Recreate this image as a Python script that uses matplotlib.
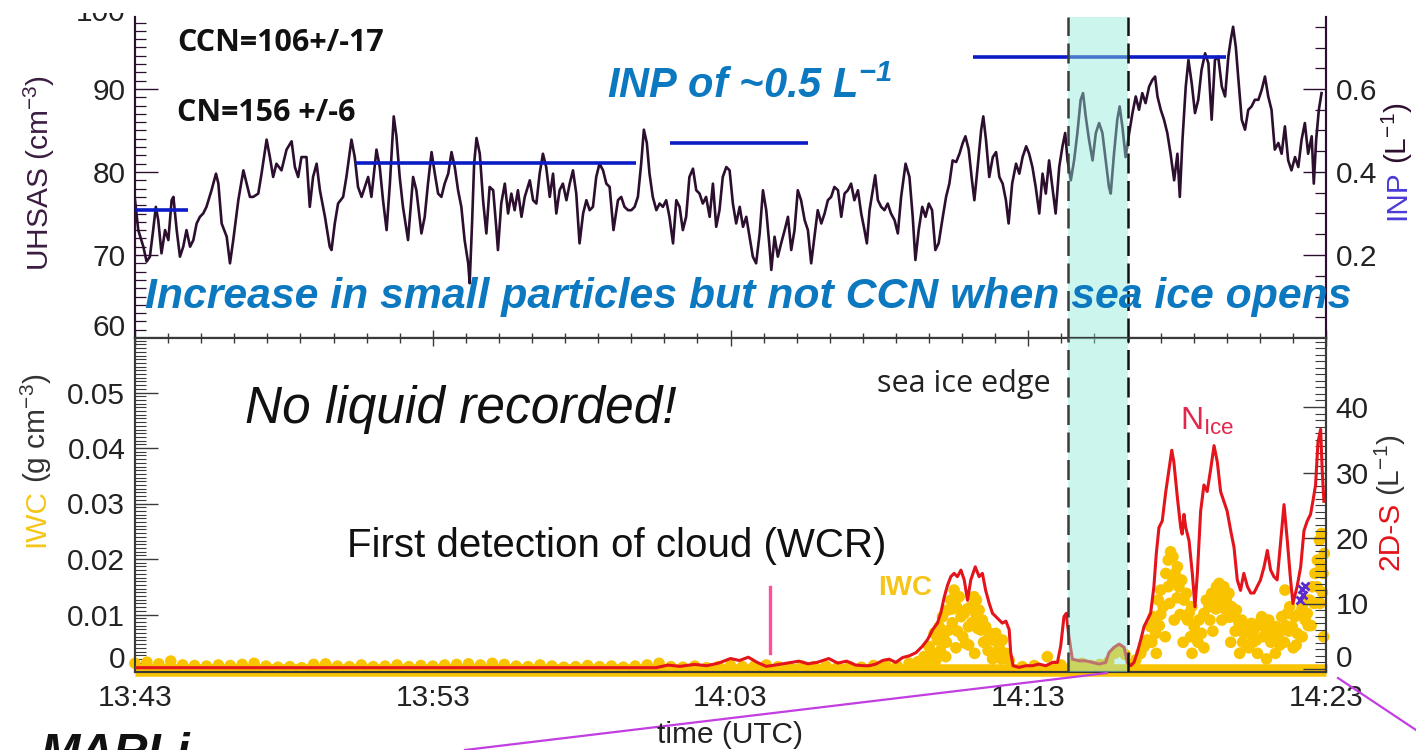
import matplotlib
matplotlib.use("Agg")
import matplotlib.pyplot as plt
from matplotlib.ticker import MultipleLocator
from matplotlib.lines import Line2D
from matplotlib.transforms import Bbox, TransformedBbox

plt.rcParams["font.family"] = ["Liberation Sans", "DejaVu Sans"]
plt.rcParams["mathtext.default"] = "regular"

# ---------------- data (time in minutes after 13:43 UTC) ----------------
time_ticks = [0, 10, 20, 30, 40]
time_labels = ["13:43", "13:53", "14:03", "14:13", "14:23"]

uhsas_t = [0.0, 0.11, 0.28, 0.39, 0.50, 0.61, 0.70, 0.78, 0.89, 1.01, 1.12, 1.23, 1.29, 1.40, 1.51, 1.62, 1.73, 1.85, 1.96, 2.07,
           2.18, 2.29, 2.40, 2.57, 2.72, 2.80, 2.91, 3.08, 3.19, 3.30, 3.47, 3.64, 3.75, 3.86, 3.97, 4.14, 4.25, 4.42, 4.53, 4.64,
           4.75, 4.92, 5.09, 5.26, 5.37, 5.48, 5.59, 5.76, 5.87, 5.98, 6.10, 6.21, 6.38, 6.54, 6.60, 6.71, 6.82, 6.99, 7.10, 7.27,
           7.38, 7.49, 7.61, 7.72, 7.83, 7.94, 8.11, 8.22, 8.33, 8.45, 8.56, 8.69, 8.78, 8.89, 9.00, 9.17, 9.34, 9.45, 9.62, 9.73,
           9.84, 9.96, 10.07, 10.18, 10.29, 10.40, 10.52, 10.63, 10.74, 10.85, 10.96, 11.07, 11.19, 11.24, 11.32, 11.39, 11.47, 11.58, 11.69, 11.80,
           11.91, 12.03, 12.14, 12.19, 12.30, 12.42, 12.53, 12.64, 12.75, 12.86, 12.98, 13.09, 13.26, 13.37, 13.48, 13.59, 13.70, 13.81, 13.93, 14.04,
           14.15, 14.26, 14.37, 14.49, 14.60, 14.71, 14.82, 14.93, 15.05, 15.16, 15.27, 15.38, 15.49, 15.60, 15.72, 15.83, 15.94, 16.07, 16.22, 16.33,
           16.44, 16.56, 16.67, 16.78, 16.89, 17.00, 17.09, 17.19, 17.28, 17.39, 17.51, 17.62, 17.73, 17.84, 17.95, 18.07, 18.18, 18.29, 18.40, 18.51,
           18.62, 18.74, 18.85, 18.96, 19.07, 19.18, 19.30, 19.41, 19.52, 19.63, 19.74, 19.86, 19.97, 20.08, 20.19, 20.31, 20.42, 20.53, 20.64, 20.75,
           20.86, 20.98, 21.09, 21.20, 21.31, 21.37, 21.48, 21.59, 21.70, 21.82, 21.93, 22.04, 22.15, 22.26, 22.37, 22.49, 22.60, 22.71, 22.82, 22.93,
           23.05, 23.16, 23.27, 23.38, 23.49, 23.61, 23.72, 23.83, 23.94, 24.05, 24.16, 24.28, 24.39, 24.50, 24.58, 24.67, 24.78, 24.86, 24.95, 25.06,
           25.17, 25.28, 25.39, 25.51, 25.62, 25.73, 25.88, 26.01, 26.12, 26.21, 26.32, 26.44, 26.55, 26.66, 26.77, 26.88, 26.99, 27.13, 27.24, 27.35,
           27.46, 27.58, 27.69, 27.80, 27.89, 28.00, 28.11, 28.19, 28.30, 28.42, 28.49, 28.58, 28.69, 28.81, 28.92, 29.03, 29.14, 29.25, 29.34, 29.46,
           29.59, 29.70, 29.81, 29.93, 30.03, 30.14, 30.25, 30.37, 30.48, 30.59, 30.70, 30.81, 30.92, 31.04, 31.15, 31.24, 31.32, 31.43, 31.54, 31.65,
           31.76, 31.84, 31.93, 32.04, 32.16, 32.27, 32.38, 32.49, 32.60, 32.71, 32.77, 32.88, 32.99, 33.07, 33.16, 33.27, 33.39, 33.50, 33.61, 33.72,
           33.83, 33.94, 34.06, 34.17, 34.26, 34.34, 34.45, 34.56, 34.67, 34.78, 34.90, 35.01, 35.09, 35.18, 35.29, 35.38, 35.49, 35.60, 35.71, 35.82,
           35.94, 36.05, 36.16, 36.27, 36.38, 36.50, 36.61, 36.72, 36.80, 36.88, 36.97, 37.05, 37.17, 37.28, 37.39, 37.50, 37.61, 37.73, 37.84, 37.95,
           38.06, 38.17, 38.28, 38.40, 38.51, 38.62, 38.73, 38.84, 38.96, 39.07, 39.18, 39.29, 39.40, 39.52, 39.59, 39.67, 39.76, 39.85]
uhsas_v = [76.6, 73.0, 71.0, 69.2, 69.8, 73.0, 75.8, 74.2, 70.2, 73.0, 71.8, 76.6, 77.0, 73.0, 69.8, 71.0, 73.0, 71.0, 71.8, 73.8,
           74.6, 75.0, 75.8, 77.8, 79.8, 78.6, 73.8, 72.2, 69.0, 71.8, 76.6, 80.2, 78.6, 77.0, 77.0, 77.4, 79.8, 83.9, 81.8, 79.4,
           81.0, 80.2, 82.7, 83.7, 80.6, 79.4, 81.8, 81.8, 75.8, 79.4, 81.0, 77.8, 74.6, 71.0, 70.6, 73.8, 76.2, 77.0, 79.4, 83.9,
           81.8, 78.2, 77.0, 78.2, 79.4, 77.0, 82.7, 80.6, 76.6, 73.0, 78.6, 86.7, 84.3, 79.4, 75.8, 71.8, 79.4, 77.8, 72.6, 74.6,
           78.6, 82.4, 79.8, 77.4, 77.0, 78.6, 79.8, 82.4, 80.6, 77.8, 75.8, 71.8, 69.0, 66.6, 73.8, 81.0, 84.1, 82.2, 76.6, 72.6,
           78.2, 77.8, 73.0, 70.6, 76.2, 78.6, 75.0, 77.4, 75.4, 77.8, 74.6, 77.0, 79.0, 76.6, 76.2, 79.8, 82.2, 80.6, 77.0, 79.8,
           75.0, 77.8, 78.6, 76.6, 78.6, 80.2, 77.4, 71.4, 75.0, 76.6, 75.4, 75.8, 79.4, 81.0, 80.2, 78.6, 78.2, 73.0, 76.6, 77.0,
           75.8, 75.4, 75.4, 75.8, 77.0, 81.0, 85.1, 83.5, 79.8, 77.0, 75.4, 76.2, 75.8, 76.6, 74.6, 71.4, 76.6, 75.8, 73.0, 74.6,
           79.4, 80.4, 77.8, 77.4, 76.2, 77.0, 74.6, 78.6, 73.4, 75.4, 79.4, 80.6, 80.2, 76.2, 73.8, 75.8, 73.4, 74.6, 72.2, 69.8,
           69.0, 72.6, 77.8, 75.4, 71.0, 68.2, 72.2, 69.8, 71.4, 73.0, 74.6, 70.6, 73.0, 77.8, 76.6, 74.2, 73.0, 69.0, 72.2, 75.4,
           73.8, 75.0, 76.6, 77.0, 78.2, 77.8, 74.6, 77.4, 77.8, 78.6, 76.6, 77.8, 75.0, 73.0, 71.4, 75.4, 77.8, 79.6, 76.6, 75.8,
           75.4, 76.2, 75.0, 74.2, 72.6, 77.0, 81.0, 79.4, 74.6, 69.4, 73.0, 75.8, 74.6, 76.2, 75.4, 70.6, 71.4, 74.6, 77.0, 78.6,
           81.4, 81.2, 82.2, 83.5, 84.3, 82.7, 79.0, 76.6, 80.6, 85.1, 86.7, 83.9, 79.4, 81.8, 82.4, 79.4, 78.6, 76.6, 73.8, 78.6,
           81.0, 79.8, 81.8, 83.1, 82.2, 80.6, 78.2, 75.0, 79.8, 77.4, 81.4, 78.2, 75.0, 80.6, 83.1, 84.7, 81.4, 79.0, 81.4, 84.7,
           88.7, 89.5, 86.7, 83.9, 81.4, 84.7, 85.9, 84.7, 81.4, 78.2, 77.4, 82.2, 86.3, 87.9, 85.5, 81.8, 84.7, 87.1, 89.1, 87.5,
           89.5, 88.3, 90.3, 91.1, 91.5, 89.1, 87.5, 86.3, 84.7, 82.2, 79.0, 82.2, 77.0, 83.9, 90.3, 93.5, 90.7, 87.1, 88.7, 92.3,
           94.3, 93.1, 86.3, 93.5, 93.9, 90.3, 89.1, 93.9, 95.9, 97.5, 95.1, 91.5, 86.3, 85.1, 87.5, 87.9, 88.7, 88.7, 89.9, 91.5,
           89.1, 87.5, 82.7, 83.5, 82.2, 85.5, 81.4, 80.2, 81.8, 80.6, 83.9, 85.9, 82.2, 84.3, 78.6, 83.9, 87.5, 89.5]

# INP filter samples: (start, end) in minutes and concentration in L^-1
inp_start = [0.0, 7.38, 17.97, 28.15]
inp_end = [1.78, 16.81, 22.60, 36.64]
inp_value = [0.308, 0.422, 0.470, 0.677]

# 2D-S ice number concentration (L^-1)
nice_t = [0.0, 5.0, 10.0, 15.0, 17.5, 17.9, 18.3, 18.8, 19.2, 19.6, 20.0, 20.3, 20.6, 20.9, 21.2, 21.5, 21.9, 22.3, 22.6, 22.9,
          23.3, 23.6, 23.9, 24.2, 24.5, 24.66, 24.88, 25.11, 25.33, 25.55, 25.78, 26.00, 26.23, 26.45, 26.62, 26.79, 26.95, 27.06, 27.18, 27.29,
          27.40, 27.51, 27.62, 27.74, 27.85, 27.96, 28.07, 28.22, 28.35, 28.46, 28.57, 28.69, 28.80, 28.91, 29.02, 29.13, 29.25, 29.36, 29.41, 29.49,
          29.69, 29.92, 30.14, 30.36, 30.59, 30.81, 30.98, 31.09, 31.20, 31.28, 31.35, 31.48, 31.71, 31.93, 32.15, 32.38, 32.60, 32.71, 32.88, 33.05,
          33.22, 33.33, 33.44, 33.55, 33.66, 33.78, 33.89, 34.00, 34.11, 34.22, 34.30, 34.39, 34.50, 34.62, 34.73, 34.82, 34.89, 35.01, 35.12, 35.17,
          35.23, 35.29, 35.40, 35.51, 35.60, 35.68, 35.79, 35.90, 36.01, 36.13, 36.24, 36.35, 36.46, 36.57, 36.68, 36.80, 36.91, 37.02, 37.13, 37.24,
          37.36, 37.47, 37.58, 37.69, 37.80, 37.92, 38.03, 38.14, 38.25, 38.36, 38.47, 38.59, 38.70, 38.81, 38.89, 39.03, 39.15, 39.26, 39.37, 39.48,
          39.56, 39.65, 39.73, 39.82, 39.87, 39.93]
nice_v = [0.2, 0.2, 0.2, 0.2, 0.2, 0.6, 0.4, 0.7, 0.5, 0.9, 1.6, 1.3, 1.8, 1.0, 0.4, 0.6, 0.9, 1.2, 0.8, 1.0,
          1.6, 0.9, 1.2, 0.6, 0.5, 0.5, 0.75, 1.3, 1.5, 1.0, 1.75, 2.0, 2.5, 3.5, 4.5, 6.0, 7.0, 8.5, 11.0, 12.8,
          14.1, 14.6, 14.1, 15.1, 13.6, 10.5, 13.6, 15.6, 14.1, 14.6, 12.0, 10.0, 8.5, 8.0, 7.5, 7.0, 7.3, 6.0, 2.5, 0.5,
          0.25, 0.5, 0.5, 0.75, 0.5, 1.0, 1.0, 3.5, 8.0, 8.5, 5.5, 1.5, 1.25, 1.25, 1.0, 0.75, 1.0, 2.5, 3.3, 3.8,
          3.3, 1.0, 0.5, 1.0, 2.5, 4.5, 6.5, 7.5, 8.5, 12.6, 17.6, 21.6, 22.6, 27.1, 30.6, 33.4, 31.6, 26.1, 21.6, 20.6,
          23.6, 21.6, 19.6, 14.6, 9.5, 14.6, 24.1, 28.1, 27.1, 30.6, 34.1, 31.6, 27.1, 25.6, 24.1, 21.1, 18.6, 13.6, 12.0, 14.6,
          12.6, 11.6, 11.6, 12.6, 13.6, 15.6, 18.1, 15.1, 14.1, 13.6, 19.1, 25.1, 19.6, 13.6, 10.0, 12.6, 15.6, 21.1, 22.6, 23.6,
          25.6, 28.1, 34.6, 36.6, 30.6, 25.6]

# ice water content samples (g cm^-3)
iwc_t = [0.0, 0.4, 0.8, 1.2, 1.6, 2.0, 2.4, 2.8, 3.2, 3.6, 4.0, 4.4, 4.8, 5.2, 5.6, 6.0, 6.4, 6.8, 7.2, 7.6,
         8.0, 8.4, 8.8, 9.2, 9.6, 10.0, 10.4, 10.8, 11.2, 11.6, 12.0, 12.4, 12.8, 13.2, 13.6, 14.0, 14.4, 14.8, 15.2, 15.6,
         16.0, 16.4, 16.8, 17.2, 17.6, 18.0, 18.4, 18.8, 19.2, 19.6, 20.0, 20.4, 20.8, 21.2, 21.6, 22.0, 22.4, 22.8, 23.2, 23.6,
         24.0, 24.4, 24.8, 25.2, 25.6, 26.0, 26.3, 26.50, 26.67, 26.79, 26.84, 26.90, 26.95, 27.01, 27.12, 27.18, 27.23, 27.29, 27.34, 27.40,
         27.51, 27.57, 27.59, 27.68, 27.74, 27.85, 27.90, 27.99, 28.07, 28.18, 28.20, 28.26, 28.35, 28.41, 28.46, 28.57, 28.63, 28.71, 28.80, 28.82,
         28.91, 29.02, 29.13, 29.25, 29.36, 29.8, 30.2, 30.64, 30.9, 31.1, 31.5, 31.8, 32.1, 32.4, 32.7, 32.9, 33.1, 33.25, 33.45, 33.61,
         33.78, 33.89, 34.00, 34.11, 34.19, 34.28, 34.37, 34.45, 34.53, 34.62, 34.70, 34.78, 34.86, 34.93, 35.01, 35.06, 35.15, 35.23, 35.31, 35.40,
         35.49, 35.57, 35.64, 35.73, 35.82, 35.90, 35.98, 36.07, 36.16, 36.24, 36.32, 36.41, 36.49, 36.57, 36.65, 36.74, 36.83, 36.91, 36.99, 37.08,
         37.17, 37.24, 37.32, 37.41, 37.50, 37.58, 37.66, 37.75, 37.84, 37.92, 38.00, 38.08, 38.17, 38.25, 38.33, 38.42, 38.51, 38.62, 38.70, 38.78,
         38.87, 38.95, 39.03, 39.11, 39.20, 39.29, 39.37, 39.45, 39.54, 39.63, 39.71, 39.78, 39.85, 39.90, 39.94,
         34.30, 34.60, 34.90, 35.20, 35.50, 35.90, 36.20, 36.50, 36.80, 37.10, 37.40, 37.70, 38.00, 38.30, 38.60, 38.90, 39.20, 39.50, 39.80, 39.92,
         26.60, 26.75, 27.05, 27.25, 27.45, 27.62, 27.80, 28.00, 28.10, 28.30, 28.50, 28.65, 28.95, 29.10, 27.45, 28.25, 27.95,
         34.15, 34.40, 34.45, 34.70, 34.75, 34.85, 35.00, 35.10, 35.35, 35.45, 35.70, 36.10, 36.30, 36.45, 36.60, 36.75, 36.95, 37.20,
         37.55, 37.90, 38.15, 38.45, 38.65, 38.75, 39.00, 39.30, 39.40, 39.60, 39.70, 39.82, 39.88]
iwc_v = [0.0012, 0.0014, 0.0011, 0.0016, 0.0009, 0.0008, 0.0007, 0.0009, 0.0008, 0.0010, 0.0012, 0.0007, 0.0005, 0.0006, 0.0004, 0.0010, 0.0011, 0.0007, 0.0006, 0.0009,
         0.0006, 0.0007, 0.0009, 0.0006, 0.0008, 0.0007, 0.0009, 0.0010, 0.0011, 0.0009, 0.0012, 0.0010, 0.0007, 0.0006, 0.0009, 0.0007, 0.0005, 0.0006, 0.0008, 0.0006,
         0.0007, 0.0005, 0.0007, 0.0009, 0.0012, 0.0006, 0.0005, 0.0007, 0.0004, 0.0006, 0.0008, 0.0006, 0.0007, 0.0009, 0.0006, 0.0004, 0.0007, 0.0006, 0.0007, 0.0005,
         0.0006, 0.0005, 0.0008, 0.0010, 0.0007, 0.0012, 0.0015, 0.0024, 0.0042, 0.0030, 0.0066, 0.0018, 0.0054, 0.0078, 0.0096, 0.0066, 0.0024, 0.0108, 0.0072, 0.0126,
         0.0144, 0.0040, 0.0114, 0.0132, 0.0096, 0.0102, 0.0048, 0.0078, 0.0114, 0.0132, 0.0030, 0.0126, 0.0108, 0.0072, 0.0090, 0.0078, 0.0054, 0.0066, 0.0020, 0.0054,
         0.0066, 0.0042, 0.0054, 0.0030, 0.0018, 0.0006, 0.0008, 0.0024, 0.0007, 0.0009, 0.0010, 0.0012, 0.0008, 0.0010, 0.0015, 0.0030, 0.0035, 0.0028, 0.0010, 0.0018,
         0.0030, 0.0042, 0.0054, 0.0078, 0.0096, 0.0066, 0.0126, 0.0144, 0.0114, 0.0174, 0.0198, 0.0213, 0.0204, 0.0174, 0.0186, 0.0150, 0.0162, 0.0126, 0.0138, 0.0102,
         0.0114, 0.0078, 0.0066, 0.0090, 0.0066, 0.0102, 0.0126, 0.0114, 0.0138, 0.0126, 0.0150, 0.0156, 0.0138, 0.0150, 0.0126, 0.0138, 0.0114, 0.0096, 0.0108, 0.0084,
         0.0090, 0.0066, 0.0078, 0.0066, 0.0084, 0.0072, 0.0054, 0.0084, 0.0096, 0.0078, 0.0066, 0.0090, 0.0072, 0.0054, 0.0078, 0.0066, 0.0096, 0.0144, 0.0102, 0.0114,
         0.0078, 0.0096, 0.0066, 0.0102, 0.0114, 0.0126, 0.0102, 0.0126, 0.0150, 0.0174, 0.0198, 0.0234, 0.0246, 0.0174, 0.0210,
         0.0030, 0.0060, 0.0090, 0.0050, 0.0030, 0.0040, 0.0070, 0.0090, 0.0050, 0.0030, 0.0040, 0.0030, 0.0020, 0.0030, 0.0050, 0.0040, 0.0060, 0.0080, 0.0120, 0.0060,
         0.0012, 0.0020, 0.0035, 0.0050, 0.0085, 0.0070, 0.0060, 0.0045, 0.0085, 0.0075, 0.0050, 0.0035, 0.0030, 0.0020, 0.0110, 0.0100, 0.0110,
         0.0050, 0.0080, 0.0100, 0.0150, 0.0120, 0.0160, 0.0130, 0.0100, 0.0090, 0.0060, 0.0050, 0.0090, 0.0110, 0.0120, 0.0110, 0.0095, 0.0070, 0.0050,
         0.0050, 0.0060, 0.0050, 0.0045, 0.0080, 0.0070, 0.0045, 0.0090, 0.0080, 0.0120, 0.0150, 0.0190, 0.0140]

# sea-ice edge crossing (minutes)
edge_start, edge_end = 31.32, 33.35
# first WCR cloud detection (minutes) and marker extent on the 2D-S axis
wcr_time = 21.34
wcr_span = (2.4, 12.5)
# a few cloud-droplet flags near the end of the leg
flag_t = [39.12, 39.18, 39.24, 39.30]
flag_v = [10.6, 12.2, 11.3, 12.6]

# ---------------- styling ----------------
W, H = 1416, 750
DPI = 100
UHSAS_C = "#2c0e2f"
INP_C = "#0b1bc6"
RED = "#e3141b"
YELLOW = "#f9c300"
BAND_C = "#8fe9d8"
TXT_BLUE = "#0b78bf"
TICK_C = "#222222"
SPINE_C = "#3a3a3a"
TICK_FS = 21.5


def fx(px):
    return px / W


def fy(py):
    return 1 - py / H


fig = plt.figure(figsize=(W / DPI, H / DPI), dpi=DPI)
fig.patch.set_facecolor("white")

L, R = 135, 1326
ax1 = fig.add_axes([fx(L), fy(338), (R - L) / W, (338 - 17) / H])
ax1b = ax1.twinx()
ax2 = fig.add_axes([fx(L), fy(672), (R - L) / W, (672 - 338) / H])
ax2b = ax2.twinx()

pt = 72 / DPI  # points per pixel

# ---- top panel: UHSAS and INP ----
ax1.plot(uhsas_t, uhsas_v, color=UHSAS_C, lw=1.9, zorder=3)
ax1.set_xlim(0, 40)
ax1.set_ylim(60, 60 + (338 - 17) / 8.3)
for s, e, v in zip(inp_start, inp_end, inp_value):
    ax1b.plot([s, e], [v, v], color=INP_C, lw=2.6, solid_capstyle="butt", zorder=2)
ax1b.set_ylim(0, (338 - 17) / 8.3 / 50)

ax1.set_yticks([60, 70, 80, 90])
ax1.set_yticklabels(["", "70", "80", "90"])
ax1.yaxis.set_minor_locator(MultipleLocator(1))
ax1b.set_yticks([0.2, 0.4, 0.6])
ax1b.set_yticklabels(["0.2", "0.4", "0.6"])
ax1b.yaxis.set_minor_locator(MultipleLocator(0.05))
ax1.set_xticks(time_ticks)
ax1.xaxis.set_minor_locator(MultipleLocator(10 / 9))
ax1.tick_params(axis="x", which="both", direction="in", labelbottom=False, color=SPINE_C)
ax1.tick_params(axis="x", which="major", length=8 * pt, width=1.0)
ax1.tick_params(axis="x", which="minor", length=5 * pt, width=1.0)
for a in (ax1, ax1b):
    a.tick_params(axis="y", which="major", direction="in", length=23 * pt, width=1.0,
                  labelsize=TICK_FS, labelcolor=TICK_C, color=UHSAS_C, pad=7)
    a.tick_params(axis="y", which="minor", direction="in", length=11 * pt, width=0.9, color=UHSAS_C)
    a.spines["top"].set_visible(False)
    a.spines["left"].set_color(UHSAS_C)
    a.spines["right"].set_color(UHSAS_C)
    a.spines["bottom"].set_color(SPINE_C)
    for sp in a.spines.values():
        sp.set_linewidth(1.5)


def edge_label(ax, text, y, side, dy=7):
    # end-of-axis labels are nudged off their tick
    xa, ha, dx = (0, "right", -7) if side == "left" else (1, "left", 7)
    return ax.annotate(text, xy=(xa, y), xycoords=("axes fraction", "data"), xytext=(dx, dy),
                       textcoords="offset points", ha=ha, va="center", fontsize=TICK_FS,
                       color=TICK_C, annotation_clip=False)


edge_label(ax1, "60", 60, "left")
top_lbl = edge_label(ax1, "100", 100, "left", dy=-5)
# the frame is cropped just above the top of the panel
top_lbl.set_clip_box(TransformedBbox(Bbox([[0, 0], [1, fy(13)]]), fig.transFigure))
top_lbl.set_clip_on(True)

# ---- bottom panel: IWC and 2D-S ----
ax2.set_xlim(0, 40)
ax2.set_ylim(-2 / 5550, (670 - 338) / 5550)
ax2.plot([0, 40], [0, 0], color=YELLOW, lw=9, solid_capstyle="butt", zorder=2, clip_on=False)
ax2.scatter(iwc_t, iwc_v, s=70, color=YELLOW, edgecolors="none", zorder=3, clip_on=False)
ax2b.set_ylim(-3 / 6.55, (669 - 338) / 6.55)
ax2b.plot(nice_t, nice_v, color=RED, lw=2.2, zorder=3)
ax2b.plot([wcr_time, wcr_time], list(wcr_span), color="#ff4f9e", lw=2.4, zorder=3)
ax2b.plot(flag_t, flag_v, ls="none", marker="x", ms=6, mew=2, color="#5b2bd0", zorder=4)

ax2.set_yticks([0, 0.01, 0.02, 0.03, 0.04, 0.05])
ax2.set_yticklabels(["", "0.01", "0.02", "0.03", "0.04", "0.05"])
ax2.yaxis.set_minor_locator(MultipleLocator(0.01 / 15))
ax2b.set_yticks([0, 10, 20, 30, 40])
ax2b.set_yticklabels(["", "10", "20", "30", "40"])
ax2b.yaxis.set_minor_locator(MultipleLocator(1))
ax2.set_xticks(time_ticks)
ax2.set_xticklabels(time_labels)
ax2.xaxis.set_minor_locator(MultipleLocator(10 / 9))
ax2.tick_params(axis="x", which="both", direction="in", top=True, color=SPINE_C,
                labelsize=TICK_FS, labelcolor=TICK_C, pad=9)
ax2.tick_params(axis="x", which="major", length=8 * pt, width=1.0)
ax2.tick_params(axis="x", which="minor", length=5 * pt, width=1.0)
for a in (ax2, ax2b):
    a.tick_params(axis="y", which="major", direction="in", length=23 * pt, width=1.0,
                  labelsize=TICK_FS, labelcolor=TICK_C, color=SPINE_C, pad=7)
    a.tick_params(axis="y", which="minor", direction="in", length=11 * pt, width=0.8, color=SPINE_C)
    for sp in a.spines.values():
        sp.set_linewidth(1.5)
        sp.set_color(SPINE_C)
edge_label(ax2, "0", 0, "left")
edge_label(ax2b, "0", 0, "right")

# ---- sea-ice edge band on both panels ----
for a in (ax1b, ax2b):
    a.axvspan(edge_start, edge_end, color=BAND_C, alpha=0.45, lw=0, zorder=5)
    a.axvline(edge_start, color="#3c3c3c", lw=1.8, ls=(0, (8, 3)), zorder=6)
    a.axvline(edge_end, color="#111111", lw=1.8, ls=(0, (8, 3)), zorder=6)

# ---------------- annotations ----------------
fig.text(fx(177), fy(43), "CCN=106+/-17", family="Open Sans", weight="bold", fontsize=22,
         color="#111111", ha="left", va="center")
fig.text(fx(177), fy(113), "CN=156 +/-6", family="Open Sans", weight="bold", fontsize=22,
         color="#111111", ha="left", va="center")
fig.text(fx(607), fy(98), "INP of ~0.5 L$^{-1}$", weight="bold", style="italic", fontsize=30,
         color=TXT_BLUE, ha="left", va="baseline")
fig.text(fx(145), fy(308), "Increase in small particles but not CCN when sea ice opens",
         weight="bold", style="italic", fontsize=30.8, color=TXT_BLUE, ha="left", va="baseline")
fig.text(fx(245), fy(423), "No liquid recorded!", style="italic", fontsize=37,
         color="#111111", ha="left", va="baseline")
fig.text(fx(877), fy(392), "sea ice edge", family="Open Sans", fontsize=22,
         color="#222222", ha="left", va="baseline")
fig.text(fx(347), fy(557), "First detection of cloud (WCR)", fontsize=29,
         color="#111111", ha="left", va="baseline")
fig.text(fx(878), fy(595), "IWC", weight="bold", fontsize=20, color="#f5c518",
         ha="left", va="baseline")
fig.text(fx(1180), fy(430), "N$_{Ice}$", fontsize=23, color="#e3264c",
         ha="left", va="baseline")
fig.text(fx(730), fy(743), "time (UTC)", fontsize=21.5, color=TICK_C,
         ha="center", va="baseline")
fig.text(fx(40), fy(766), "MARLi", weight="bold", style="italic", fontsize=34,
         color="#111111", ha="left", va="baseline")

renderer = fig.canvas.get_renderer()


def vertical_label(x_px, y_bottom_px, parts, size):
    y = y_bottom_px
    for text, color in parts:
        t = fig.text(fx(x_px), fy(y), text, rotation=90, ha="center", va="bottom",
                     color=color, fontsize=size)
        y -= t.get_window_extent(renderer).height + 6


fig.text(fx(39), fy(173), "UHSAS (cm$^{-3}$)", rotation=90, ha="center", va="center",
         color="#3b1d42", fontsize=21.5)
vertical_label(36, 547, [("IWC", "#f5c518"), ("(g cm$^{-3}$)", "#333333")], 21.5)
vertical_label(1397, 220, [("INP", "#4a3ad8"), ("(L$^{-1}$)", "#2c0e2f")], 21.5)
vertical_label(1390, 570, [("2D-S", RED), ("(L$^{-1}$)", "#333333")], 21.5)

# ---------------- leader lines across the figure ----------------
fig.add_artist(Line2D([fx(465), fx(1107)], [fy(750), fy(673)], color="#c33ee0", lw=1.6))
fig.add_artist(Line2D([fx(1338), fx(1416)], [fy(678), fy(730)], color="#c33ee0", lw=1.6))

fig.savefig("out.png", dpi=DPI)
